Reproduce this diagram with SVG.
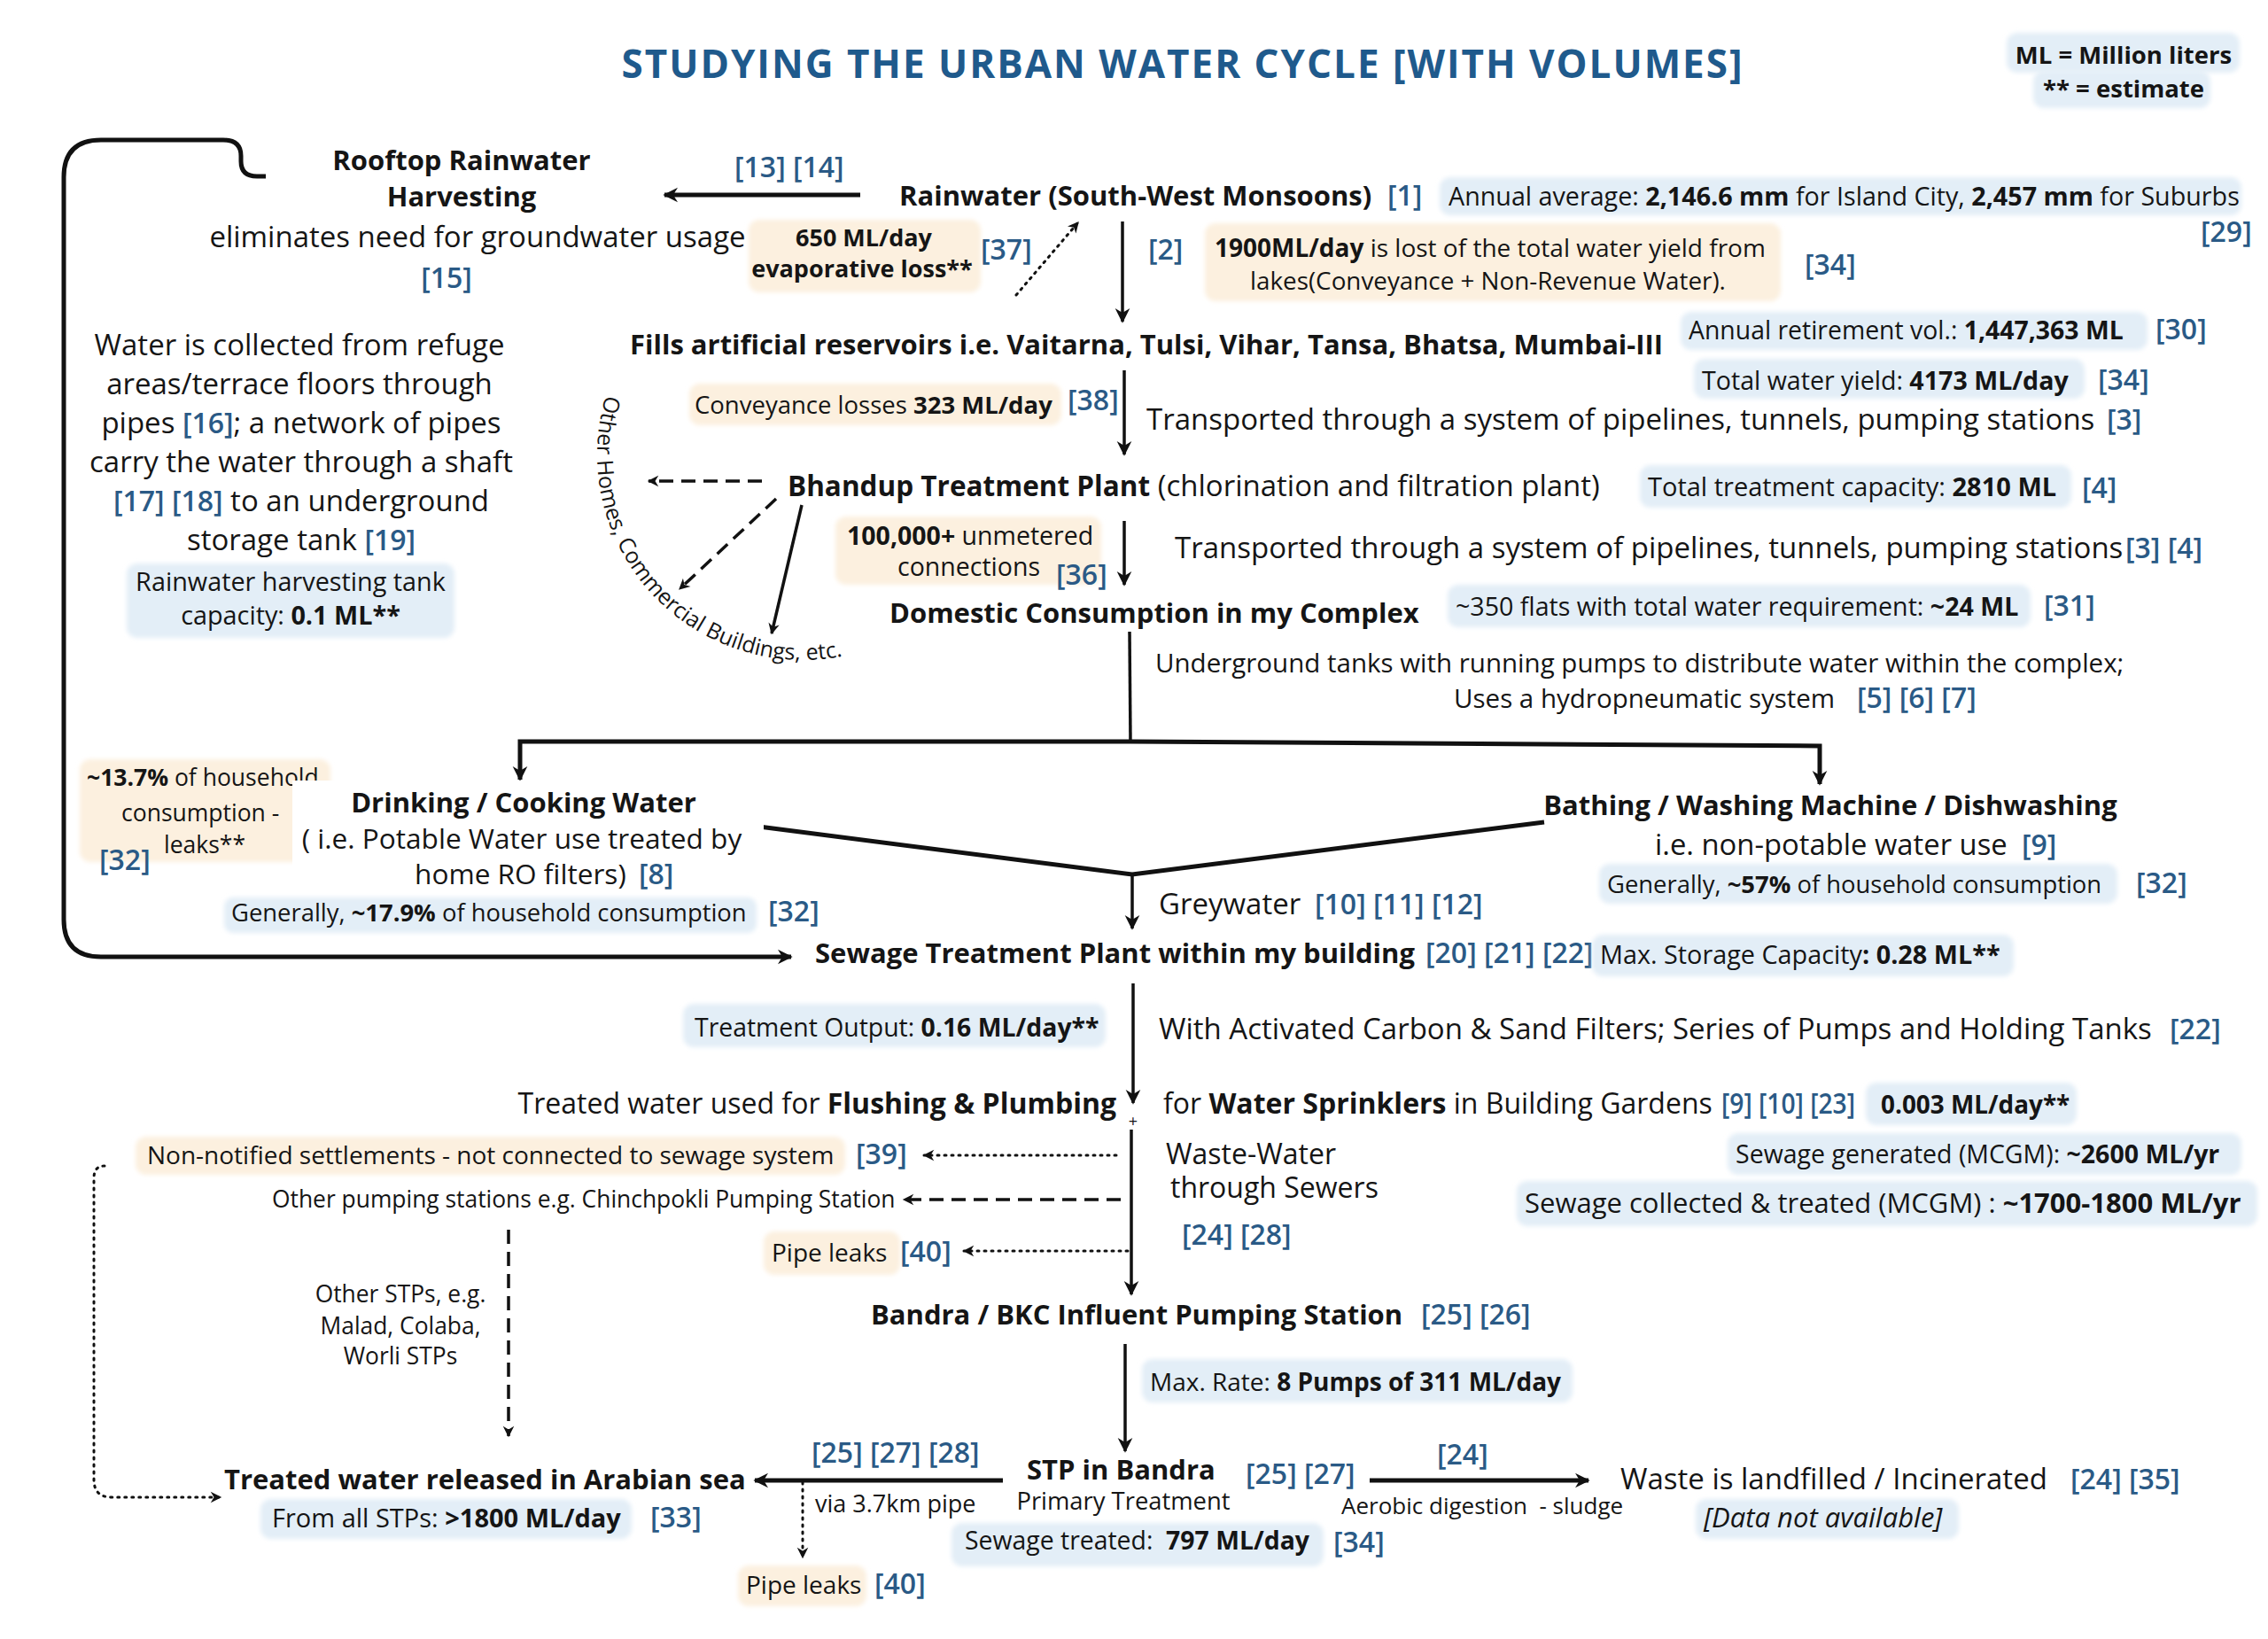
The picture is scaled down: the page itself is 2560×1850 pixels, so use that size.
<svg xmlns="http://www.w3.org/2000/svg" width="2560" height="1850" viewBox="0 0 2560 1850">
<defs>
<style>
text{font-family:"Open Sans","Noto Sans","Liberation Sans",sans-serif;fill:#151515}
.ti{font-size:44px;font-weight:700;fill:#1f5a8c}
.b{font-weight:700}
.h{font-size:31px;font-weight:700}
.r{font-size:33px}
.ref{fill:#2a5a86;font-weight:600;font-size:32px}
.bb{fill:#e3eef7}
.by{fill:#fcf0df}
.box{filter:url(#soft)}
.ln{fill:none;stroke:#111;stroke-width:3.5}
.th{stroke-width:5}
.dsh{stroke-dasharray:16 9}
.dot{stroke-dasharray:2 6;stroke-linecap:round;stroke-width:3}
</style>
<filter id="soft" x="-5%" y="-20%" width="110%" height="140%"><feGaussianBlur stdDeviation="2.5"/></filter>
<marker id="ah" viewBox="0 0 12 12" refX="10" refY="6" markerWidth="20" markerHeight="20" markerUnits="userSpaceOnUse" orient="auto"><path d="M1,1 L11,6 L1,11 L4,6 z" fill="#111"/></marker>
<marker id="ahs" viewBox="0 0 12 12" refX="10" refY="6" markerWidth="15" markerHeight="15" markerUnits="userSpaceOnUse" orient="auto"><path d="M1,1 L11,6 L1,11 L4,6 z" fill="#111"/></marker>
<path id="arc" d="M 684,446 A 232 232 0 0 0 970,736" fill="none"/>
</defs>
<rect width="2560" height="1850" fill="#ffffff"/>

<g id="title">
<text class="ti" x="1334" y="88" text-anchor="middle" textLength="1265">STUDYING THE URBAN WATER CYCLE [WITH VOLUMES]</text>
</g>

<g id="legend">
<rect class="bb box" x="2265" y="37" width="263" height="45" rx="12"/>
<rect class="bb box" x="2295" y="80" width="200" height="42" rx="12"/>
<text class="b" font-size="27.5" x="2397" y="72" text-anchor="middle">ML = Million liters</text>
<text class="b" font-size="27.5" x="2397" y="110" text-anchor="middle">** = estimate</text>
</g>

<g id="connectors">
<path class="ln th" d="M 300,199 L 290,199 Q 272,199 272,182 L 272,176 Q 272,158 252,158 L 114,158 Q 72,158 72,200 L 72,1038 Q 72,1080 114,1080 L 893,1080" marker-end="url(#ah)"/>
<path class="ln th" d="M 971,220 L 750,220" marker-end="url(#ah)"/>
<path class="ln" d="M 1267,250 L 1267,363" marker-end="url(#ah)"/>
<path class="ln dot" d="M 1147,333 L 1217,251" marker-end="url(#ahs)"/>
<path class="ln" d="M 1269,418 L 1269,513" marker-end="url(#ah)"/>
<path class="ln dsh" stroke-width="3" d="M 860,543 L 732,543" marker-end="url(#ahs)"/>
<path class="ln dsh" stroke-width="3" d="M 876,563 L 767,665" marker-end="url(#ahs)"/>
<path class="ln" stroke-width="2.5" d="M 905,570 L 871,715" marker-end="url(#ahs)"/>
<path class="ln" d="M 1269,588 L 1269,660" marker-end="url(#ah)"/>
<path class="ln" d="M 1275,713 L 1276,838"/>
<path class="ln th" d="M 1277,837 L 587,837 L 587,880" marker-end="url(#ah)"/>
<path class="ln th" d="M 1277,837 L 2054,842 L 2054,885" marker-end="url(#ah)"/>
<path class="ln th" d="M 810,927 L 1278,987 L 1743,928"/>
<path class="ln" d="M 1278,987 L 1278,1048" marker-end="url(#ah)"/>
<path class="ln" d="M 1279,1110 L 1279,1245" marker-end="url(#ah)"/>
<path class="ln" d="M 1277,1275 L 1277,1461" marker-end="url(#ah)"/>
<path class="ln dot" d="M 1260,1304 L 1043,1304" marker-end="url(#ahs)"/>
<path class="ln dsh" stroke-width="3.5" d="M 1265,1354 L 1020,1354" marker-end="url(#ahs)"/>
<path class="ln dot" d="M 1273,1412 L 1088,1412" marker-end="url(#ahs)"/>
<path class="ln dsh" stroke-width="2.5" d="M 574,1388 L 574,1621" marker-end="url(#ahs)"/>
<path class="ln dot" stroke-width="2.5" d="M 118,1316 Q 106,1316 106,1330 L 106,1670 Q 106,1690 126,1690 L 249,1690" marker-end="url(#ahs)"/>
<path class="ln" d="M 1270,1517 L 1270,1638" marker-end="url(#ah)"/>
<path class="ln th" d="M 1132,1671 L 852,1671" marker-end="url(#ah)"/>
<path class="ln dot" stroke-width="2.5" d="M 906,1673 L 906,1758" marker-end="url(#ahs)"/>
<path class="ln th" d="M 1546,1671 L 1793,1671" marker-end="url(#ah)"/>
<text x="1279" y="1272" font-size="18" text-anchor="middle">+</text>
</g>

<g id="n-rooftop">
<text class="h" x="521" y="192" text-anchor="middle">Rooftop Rainwater</text>
<text class="h" x="521" y="233" text-anchor="middle">Harvesting</text>
<text class="r" x="539" y="279" text-anchor="middle">eliminates need for groundwater usage</text>
<text class="ref" x="504" y="325" text-anchor="middle">[15]</text>
<text class="ref" x="829" y="200">[13] [14]</text>
</g>

<g id="n-collection">
<text class="r" x="338" y="401" text-anchor="middle">Water is collected from refuge</text>
<text class="r" x="338" y="445" text-anchor="middle">areas/terrace floors through</text>
<text class="r" x="340" y="489" text-anchor="middle">pipes <tspan class="ref" font-size="33">[16]</tspan>; a network of pipes</text>
<text class="r" x="340" y="533" text-anchor="middle">carry the water through a shaft</text>
<text class="r" x="340" y="577" text-anchor="middle"><tspan class="ref" font-size="33">[17] [18]</tspan> to an  underground</text>
<text class="r" x="340" y="621" text-anchor="middle">storage tank  <tspan class="ref" font-size="33">[19]</tspan></text>
<rect class="bb box" x="143" y="636" width="370" height="84" rx="12"/>
<text font-size="28.8" x="328" y="667" text-anchor="middle">Rainwater harvesting tank</text>
<text font-size="28.8" x="328" y="705" text-anchor="middle">capacity: <tspan class="b">0.1 ML**</tspan></text>
</g>

<g id="n-rainwater">
<text class="h" font-size="31.3" x="1015" y="232">Rainwater (South-West Monsoons)</text>
<text class="ref" x="1566" y="232">[1]</text>
<rect class="bb box" x="1625" y="200" width="905" height="43" rx="12"/>
<text font-size="28.7" x="1635" y="232">Annual average: <tspan class="b">2,146.6 mm</tspan> for Island City, <tspan class="b">2,457 mm</tspan> for Suburbs</text>
<text class="ref" x="2484" y="273">[29]</text>
<rect class="by box" x="845" y="248" width="262" height="82" rx="12"/>
<text class="b" font-size="27" x="975" y="278" text-anchor="middle">650 ML/day</text>
<text class="b" font-size="27" x="973" y="313" text-anchor="middle">evaporative loss**</text>
<text class="ref" x="1107" y="293">[37]</text>
<text class="ref" x="1296" y="293">[2]</text>
<rect class="by box" x="1360" y="252" width="650" height="88" rx="12"/>
<text font-size="28" x="1371" y="290"><tspan class="b">1900ML/day</tspan> is lost of the total water yield  from</text>
<text font-size="27.8" x="1411" y="327">lakes(Conveyance + Non-Revenue Water).</text>
<text class="ref" x="2037" y="310">[34]</text>
</g>

<g id="n-reservoirs">
<text class="h" x="711" y="400">Fills artificial reservoirs i.e. Vaitarna, Tulsi, Vihar, Tansa, Bhatsa, Mumbai-III</text>
<rect class="bb box" x="1897" y="352" width="527" height="43" rx="12"/>
<text font-size="28.4" x="1906" y="383">Annual retirement vol.: <tspan class="b">1,447,363 ML</tspan></text>
<text class="ref" x="2433" y="383">[30]</text>
<rect class="bb box" x="1912" y="405" width="441" height="45" rx="12"/>
<text font-size="28.6" x="1921" y="440">Total water yield: <tspan class="b">4173 ML/day</tspan></text>
<text class="ref" x="2368" y="440">[34]</text>
<rect class="by box" x="778" y="433" width="420" height="47" rx="12"/>
<text font-size="27.5" x="784" y="467">Conveyance losses <tspan class="b">323 ML/day</tspan></text>
<text class="ref" x="1205" y="463">[38]</text>
<text class="r" x="1294" y="485">Transported through a system of pipelines, tunnels, pumping stations</text>
<text class="ref" x="2378" y="485">[3]</text>
</g>

<g id="n-bhandup">
<text class="r" x="889" y="560"><tspan class="b" font-size="31.5">Bhandup Treatment Plant</tspan> (chlorination and filtration plant)</text>
<rect class="bb box" x="1851" y="525" width="487" height="48" rx="12"/>
<text font-size="29" x="1860" y="560">Total treatment capacity: <tspan class="b">2810 ML</tspan></text>
<text class="ref" x="2350" y="562">[4]</text>
<text font-size="25" fill="#333"><textPath href="#arc">Other Homes, Commercial Buildings, etc.</textPath></text>
<rect class="by box" x="943" y="583" width="300" height="77" rx="12"/>
<text font-size="28.5" x="956" y="615"><tspan class="b">100,000+</tspan> unmetered</text>
<text font-size="28.5" x="1013" y="650">connections</text>
<text class="ref" x="1192" y="660">[36]</text>
<text class="r" x="1326" y="630">Transported through a system of pipelines, tunnels, pumping stations</text>
<text class="ref" font-size="27" x="2399" y="630">[3] [4]</text>
</g>

<g id="n-domestic">
<text class="h" font-size="31.5" x="1004" y="703">Domestic Consumption in my Complex</text>
<rect class="bb box" x="1634" y="660" width="658" height="48" rx="12"/>
<text font-size="28.6" x="1643" y="695">~350 flats with total water requirement: <tspan class="b">~24 ML</tspan></text>
<text class="ref" x="2307" y="695">[31]</text>
<text font-size="29.5" x="1304" y="759">Underground tanks with running pumps to distribute water within the complex;</text>
<text font-size="29.5" x="1641" y="799">Uses a hydropneumatic system</text>
<text class="ref" font-size="25" x="2096" y="799">[5] [6] [7]</text>
</g>

<g id="n-drinking">
<rect class="by box" x="90" y="857" width="283" height="116" rx="12"/>
<text font-size="26.5" x="98" y="887"><tspan class="b">~13.7%</tspan> of household</text>
<text font-size="26.5" x="137" y="927">consumption -</text>
<text font-size="26.5" x="185" y="963">leaks**</text>
<text class="ref" x="112" y="982">[32]</text>
<rect x="330" y="881" width="532" height="130" fill="#ffffff"/>
<text class="h" font-size="30" x="591" y="917" text-anchor="middle">Drinking / Cooking Water</text>
<text font-size="31.6" x="589" y="958" text-anchor="middle">( i.e. Potable Water use treated by</text>
<text font-size="31.6" x="468" y="998">home RO filters)</text>
<text class="ref" x="721" y="998">[8]</text>
<rect class="bb box" x="253" y="1013" width="601" height="40" rx="10"/>
<text font-size="27.4" x="261" y="1040">Generally, <tspan class="b">~17.9%</tspan> of household consumption</text>
<text class="ref" x="867" y="1040">[32]</text>
</g>

<g id="n-bathing">
<text class="h" x="2066" y="920" text-anchor="middle">Bathing / Washing Machine / Dishwashing</text>
<text font-size="32.8" x="1868" y="965">i.e. non-potable water use</text>
<text class="ref" x="2282" y="965">[9]</text>
<rect class="bb box" x="1805" y="975" width="585" height="45" rx="12"/>
<text font-size="27.4" x="1814" y="1008">Generally, <tspan class="b">~57%</tspan> of household consumption</text>
<text class="ref" x="2411" y="1008">[32]</text>
<text font-size="33" x="1308" y="1032">Greywater</text>
<text class="ref" font-size="27" x="1484" y="1032">[10] [11] [12]</text>
</g>

<g id="n-stp-building">
<text class="h" x="920" y="1087">Sewage Treatment Plant within my building</text>
<text class="ref" font-size="25.5" x="1609" y="1087">[20] [21] [22]</text>
<rect class="bb box" x="1797" y="1055" width="476" height="47" rx="12"/>
<text font-size="28.8" x="1806" y="1088">Max. Storage Capacity<tspan class="b">: 0.28 ML**</tspan></text>
<rect class="bb box" x="771" y="1133" width="477" height="49" rx="12"/>
<text font-size="28.4" x="784" y="1170">Treatment Output: <tspan class="b">0.16 ML/day**</tspan></text>
<text font-size="33" x="1308" y="1173">With Activated Carbon &amp; Sand Filters; Series of Pumps and Holding Tanks</text>
<text class="ref" x="2449" y="1173">[22]</text>
</g>

<g id="n-reuse">
<text font-size="32" x="1260" y="1257" text-anchor="end">Treated water used for <tspan class="b">Flushing &amp; Plumbing</tspan></text>
<text font-size="32" x="1313" y="1257">for <tspan class="b">Water Sprinklers</tspan> in Building Gardens</text>
<rect class="bb box" x="2106" y="1222" width="238" height="48" rx="12"/>
<text class="ref" font-size="25" x="1943" y="1257" textLength="151" lengthAdjust="spacingAndGlyphs">[9] [10] [23]</text>
<text class="b" font-size="27.9" x="2123" y="1257">0.003 ML/day**</text>
</g>

<g id="n-sewers">
<text font-size="32" x="1316" y="1314">Waste-Water</text>
<text font-size="32" x="1321" y="1352">through Sewers</text>
<text class="ref" x="1334" y="1405">[24] [28]</text>
<rect class="bb box" x="1950" y="1279" width="580" height="47" rx="12"/>
<text font-size="28.5" x="1959" y="1313">Sewage generated (MCGM): <tspan class="b">~2600 ML/yr</tspan></text>
<rect class="bb box" x="1712" y="1333" width="836" height="51" rx="12"/>
<text font-size="31" x="1721" y="1369">Sewage collected &amp; treated (MCGM) : <tspan class="b">~1700-1800 ML/yr</tspan></text>
</g>

<g id="n-losses">
<rect class="by box" x="153" y="1283" width="801" height="43" rx="12"/>
<text font-size="28" x="166" y="1314">Non-notified settlements - not connected to sewage system</text>
<text class="ref" x="966" y="1314">[39]</text>
<text font-size="26.4" x="307" y="1363">Other pumping stations e.g. Chinchpokli Pumping Station</text>
<rect class="by box" x="862" y="1390" width="154" height="49" rx="12"/>
<text font-size="28" x="871" y="1424">Pipe leaks</text>
<text class="ref" x="1016" y="1424">[40]</text>
<text font-size="26.4" x="452" y="1470" text-anchor="middle">Other STPs, e.g.</text>
<text font-size="26.4" x="452" y="1506" text-anchor="middle">Malad, Colaba,</text>
<text font-size="26.4" x="452" y="1540" text-anchor="middle">Worli STPs</text>
</g>

<g id="n-bandra-pumping">
<text class="h" font-size="31.6" x="983" y="1495">Bandra / BKC Influent Pumping Station</text>
<text class="ref" x="1604" y="1495">[25] [26]</text>
<rect class="bb box" x="1289" y="1534" width="486" height="49" rx="12"/>
<text font-size="28" x="1298" y="1570">Max. Rate: <tspan class="b">8 Pumps of 311 ML/day</tspan></text>
</g>

<g id="n-stp-bandra">
<text class="h" font-size="32.5" x="1159" y="1670">STP in Bandra</text>
<text class="ref" x="1406" y="1675">[25] [27]</text>
<text font-size="27.4" x="1268" y="1704" text-anchor="middle">Primary Treatment</text>
<rect class="bb box" x="1074" y="1719" width="420" height="49" rx="12"/>
<text font-size="28.4" x="1089" y="1749" xml:space="preserve">Sewage treated:  <tspan class="b">797 ML/day</tspan></text>
<text class="ref" x="1505" y="1752">[34]</text>
</g>

<g id="n-sea">
<text class="h" x="253" y="1681">Treated water released in Arabian sea</text>
<rect class="bb box" x="294" y="1692" width="419" height="45" rx="12"/>
<text font-size="29" x="307" y="1724">From all STPs: <tspan class="b">&gt;1800 ML/day</tspan></text>
<text class="ref" x="734" y="1724">[33]</text>
<text class="ref" x="916" y="1651">[25] [27] [28]</text>
<text font-size="27" x="920" y="1707">via 3.7km pipe</text>
<rect class="by box" x="833" y="1767" width="145" height="46" rx="12"/>
<text font-size="28" x="842" y="1799">Pipe leaks</text>
<text class="ref" x="987" y="1799">[40]</text>
</g>

<g id="n-waste">
<text class="ref" x="1622" y="1653">[24]</text>
<text font-size="26" x="1514" y="1709" xml:space="preserve">Aerobic digestion  - sludge</text>
<text font-size="33" x="1829" y="1681">Waste is landfilled / Incinerated</text>
<text class="ref" x="2337" y="1681">[24] [35]</text>
<rect class="bb box" x="1914" y="1692" width="297" height="45" rx="12"/>
<text font-size="31" font-style="italic" x="1923" y="1724">[Data not available]</text>
</g>
</svg>
